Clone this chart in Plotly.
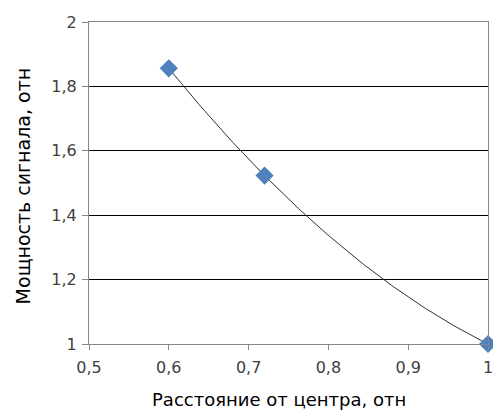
import numpy as np
import plotly.graph_objects as go

x_vals = [0.6, 0.72, 1.0]
y_vals = [1.856, 1.523, 1.0]
x_ticks = [0.5, 0.6, 0.7, 0.8, 0.9, 1.0]
y_ticks = [1.0, 1.2, 1.4, 1.6, 1.8, 2.0]
x_title = "Расстояние от центра, отн"
y_title = "Мощность сигнала, отн"

# polynomial (order 2) trendline, as in the source spreadsheet
coef = np.polyfit(x_vals, y_vals, 2)
xt = np.linspace(min(x_vals), max(x_vals), 200)
yt = np.polyval(coef, xt)

fig = go.Figure()
fig.add_trace(go.Scatter(x=xt, y=yt, mode="lines",
                         line=dict(color="#303030", width=1), hoverinfo="skip"))
fig.add_trace(go.Scatter(x=x_vals, y=y_vals, mode="markers", cliponaxis=False,
                         marker=dict(symbol="diamond", size=14, color="#4F81BD",
                                     line=dict(width=0))))

fig.update_layout(
    width=493, height=410,
    margin=dict(l=89, r=5, t=22, b=66, autoexpand=False),
    paper_bgcolor="white", plot_bgcolor="white",
    showlegend=False,
    separators=", ",
    font=dict(family="DejaVu Sans, Arial, sans-serif", color="#000000"),
    annotations=[
        dict(text=x_title, xref="paper", yref="paper", x=0.476, y=-0.172,
             xanchor="center", yanchor="middle", showarrow=False,
             font=dict(size=18, color="#000000")),
        dict(text=y_title, xref="paper", yref="paper", x=-0.165, y=0.49,
             xanchor="center", yanchor="middle", showarrow=False, textangle=-90,
             font=dict(size=19, color="#000000")),
    ],
)
fig.update_xaxes(
    range=[0.5, 1.0], tickvals=x_ticks, tickformat=".1~f",
    showgrid=False, zeroline=False,
    showline=True, linecolor="#868686", linewidth=1, mirror=True,
    ticks="outside", ticklen=5, tickcolor="#868686",
    tickfont=dict(size=16, color="#404040"),
    ticklabeloverflow="allow", ticklabelstandoff=4,
)
fig.update_yaxes(
    range=[1.0, 2.0], tickvals=y_ticks, tickformat=".1~f",
    showgrid=True, gridcolor="#000000", gridwidth=1, zeroline=False,
    showline=True, linecolor="#868686", linewidth=1, mirror=True,
    ticks="outside", ticklen=6, tickcolor="#868686",
    tickfont=dict(size=16, color="#404040"),
    ticklabeloverflow="allow", ticklabelstandoff=2,
)

fig.write_html("out.html", config={"displayModeBar": False},
               post_script="document.body.style.margin='0';")
